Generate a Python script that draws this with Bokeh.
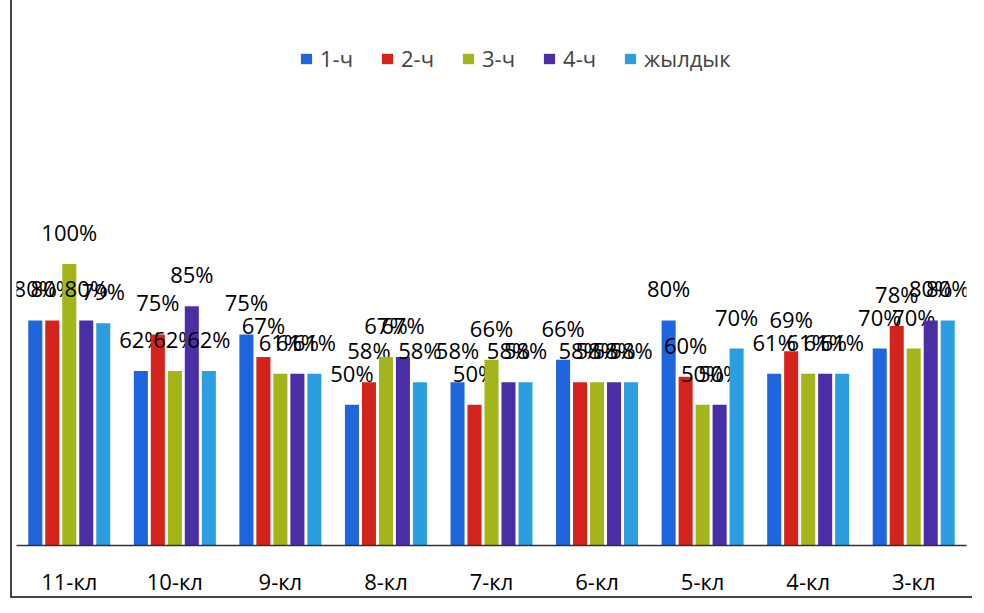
from bokeh.plotting import figure
from bokeh.models import ColumnDataSource, FactorRange, Range1d, Legend, LegendItem
from bokeh.transform import dodge
from bokeh.core.properties import value
from bokeh.embed import file_html
from bokeh.resources import INLINE

classes = ["11-кл", "10-кл", "9-кл", "8-кл", "7-кл", "6-кл", "5-кл", "4-кл", "3-кл"]
series_names = ["1-ч", "2-ч", "3-ч", "4-ч", "жылдык"]
q1 = [0.80, 0.62, 0.75, 0.50, 0.58, 0.66, 0.80, 0.61, 0.70]
q2 = [0.80, 0.75, 0.67, 0.58, 0.50, 0.58, 0.60, 0.69, 0.78]
q3 = [1.00, 0.62, 0.61, 0.67, 0.66, 0.58, 0.50, 0.61, 0.70]
q4 = [0.80, 0.85, 0.61, 0.67, 0.58, 0.58, 0.50, 0.61, 0.80]
year = [0.79, 0.62, 0.61, 0.58, 0.58, 0.58, 0.70, 0.61, 0.80]
colors = ["#1f66dc", "#d3231d", "#a3b51b", "#4a2ea6", "#2c9ee0"]

series_values = [q1, q2, q3, q4, year]
keys = ["q1", "q2", "q3", "q4", "year"]

data = {"cls": classes}
for k, vals in zip(keys, series_values):
    data[k] = vals
    data[k + "_lbl"] = [f"{round(v * 100)}%" for v in vals]
source = ColumnDataSource(data)

FONT = "Open Sans"

p = figure(
    x_range=FactorRange(*classes, range_padding=0),
    y_range=Range1d(0, 1.855),
    width=962, height=598,
    output_backend="svg", toolbar_location=None,
    min_border_left=4, min_border_right=8, min_border_top=23, min_border_bottom=50,
)
p.styles = {"margin-left": "10px", "border-left": "2px solid #444",
            "border-bottom": "2px solid #444"}

step = 0.161
offsets = [-2 * step, -step, 0, step, 2 * step]
items = []
for k, name, col, off in zip(keys, series_names, colors, offsets):
    r = p.vbar(x=dodge("cls", off, range=p.x_range), top=k, width=0.133,
               source=source, fill_color=col, line_color=None)
    p.text(x=dodge("cls", off, range=p.x_range), y=k, text=k + "_lbl", source=source,
           text_align="center", text_baseline="bottom", y_offset=-17,
           text_font=value(FONT), text_font_size="22px", text_color="black")
    items.append(LegendItem(label=name, renderers=[r]))

legend = Legend(items=items, orientation="horizontal", location=(283, 472),
                label_text_font=FONT, label_text_font_size="22px",
                glyph_width=14, glyph_height=13, spacing=27, label_standoff=7,
                border_line_color=None, background_fill_alpha=0)
p.add_layout(legend, "center")

p.yaxis.visible = False
p.xgrid.grid_line_color = None
p.ygrid.grid_line_color = None
p.outline_line_color = None
p.xaxis.axis_line_color = "#333333"
p.xaxis.axis_line_width = 1.5
p.xaxis.major_tick_line_color = None
p.xaxis.minor_tick_line_color = None
p.xaxis.major_tick_out = 0
p.xaxis.major_label_standoff = 20
p.xaxis.major_label_text_font = FONT
p.xaxis.major_label_text_font_size = "22px"
p.xaxis.major_label_text_color = "black"
p.xaxis.group_text_font_size = "0px"

open("out.html", "w").write(file_html(p, INLINE))
